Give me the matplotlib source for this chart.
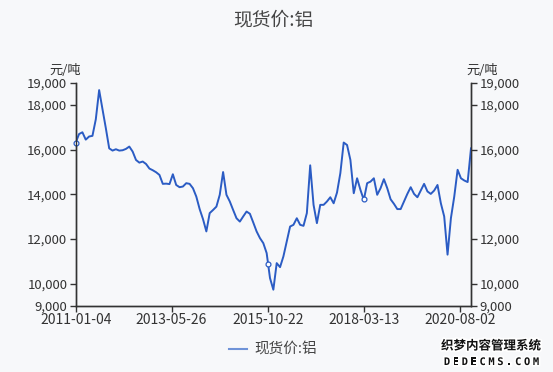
import matplotlib
matplotlib.use("Agg")
import matplotlib.pyplot as plt
import matplotlib.dates as mdates
import matplotlib.patheffects as pe
import numpy as np
import pandas as pd

plt.rcParams['font.family'] = ['Noto Sans CJK SC', 'DejaVu Sans']

title = "现货价:铝"
series_name = "现货价:铝"
unit = "元/吨"
start_date = "2011-01-04"
end_date = "2020-11-12"
values = [
    16318, 16700, 16780, 16450, 16590, 16620, 17360, 18670, 17810, 16960,
    16060, 15960, 16020, 15960, 15975, 16035, 16140, 15915, 15540, 15420,
    15470, 15360, 15155, 15080, 14990, 14870, 14470, 14480, 14460, 14900,
    14420, 14320, 14350, 14500, 14470, 14275, 13900, 13340, 12890, 12340,
    13160, 13300, 13450, 13980, 15000, 13980, 13680, 13300, 12930, 12780,
    13010, 13230, 13130, 12740, 12340, 12040, 11815, 11370, 10250, 9730,
    10920, 10740, 11220, 11890, 12560, 12635, 12930, 12635, 12590, 13160,
    15300, 13530, 12710, 13530, 13530, 13680, 13870, 13600, 14080, 14950,
    16320, 16210, 15540, 14050, 14720, 14200, 13750, 14500, 14570, 14720,
    13980, 14275, 14680, 14275, 13780, 13575, 13340, 13340, 13680, 14020,
    14320, 14020, 13870, 14170, 14470, 14130, 14020, 14170, 14420, 13600,
    13010, 11300, 12930, 13900, 15100, 14720, 14620, 14550, 16060,
]
xtick_labels = ["2011-01-04", "2013-05-26", "2015-10-22", "2018-03-13", "2020-08-02"]
marker_dates = ["2011-01-04", "2015-10-22", "2018-03-13"]
ytick_values = [9000, 10000, 12000, 14000, 16000, 18000, 19000]
watermark_cn = "织梦内容管理系统"
watermark_en = "DEDECMS.COM"

dates = pd.date_range(start_date, end_date, periods=len(values))

bg = "#f7f8fa"
line_color = "#2b5cc4"
axis_color = "#333333"
text_color = "#333333"

fig = plt.figure(figsize=(5.53, 3.72), dpi=100, facecolor=bg)
ax = fig.add_axes([75.7 / 553, 66 / 372, 395.3 / 553, 223.3 / 372])
ax.set_facecolor(bg)

ax.plot(dates, values, color=line_color, lw=1.4, label=series_name, zorder=3)

# hollow markers at labelled dates
xnum = mdates.date2num(dates)
mnum = mdates.date2num(pd.to_datetime(marker_dates))
mval = np.interp(mnum, xnum, values)
ax.plot(mdates.num2date(mnum), mval, ls="none", marker="o", ms=3.5,
        mfc="white", mec=line_color, mew=0.9, zorder=4, clip_on=False)

ax.set_xlim(pd.Timestamp(start_date), pd.Timestamp(end_date))
ax.set_ylim(min(ytick_values), max(ytick_values))
ax.set_xticks(pd.to_datetime(xtick_labels))
ax.set_xticklabels(xtick_labels)
ax.set_yticks(ytick_values)
fmt = matplotlib.ticker.FuncFormatter(lambda v, p: f"{int(v):,}")
ax.yaxis.set_major_formatter(fmt)

ax2 = ax.twinx()
ax2.set_ylim(ax.get_ylim())
ax2.set_yticks(ytick_values)
ax2.yaxis.set_major_formatter(fmt)

for a in (ax, ax2):
    a.spines['top'].set_visible(False)
    for s in ('left', 'right', 'bottom'):
        a.spines[s].set_color(axis_color)
        a.spines[s].set_linewidth(1.0)
    a.tick_params(axis='both', direction='out', length=4, width=1,
                  color=axis_color, labelcolor=text_color, labelsize=9.5, pad=2)
ax.tick_params(axis='x', labelsize=10, pad=1)

ax.text(-0.027, 1.055, unit, transform=ax.transAxes, ha='center', va='center',
        fontsize=9.5, color=text_color)
ax.text(1.028, 1.055, unit, transform=ax.transAxes, ha='center', va='center',
        fontsize=9.5, color=text_color)

fig.text(273 / 553, 1 - 20 / 372, title, ha='center', va='center',
         fontsize=13.5, color="#444444")

leg = fig.legend(handles=[matplotlib.lines.Line2D([], [], color="#6f93d8", lw=1.5)],
                 labels=[series_name], loc='center',
                 bbox_to_anchor=(273 / 553, 1 - 350 / 372), frameon=False,
                 fontsize=10.5, handlelength=1.2, handletextpad=0.5)
for t in leg.get_texts():
    t.set_color("#444444")

stroke = [pe.withStroke(linewidth=2.5, foreground="white")]
fig.text(491 / 553, 1 - 346 / 372, watermark_cn, ha='center', va='center',
         fontsize=9, fontweight='bold', color="#111111", path_effects=stroke)
n = len(watermark_en)
for k, ch in enumerate(watermark_en):
    xc = (447 + k * (89 / (n - 1))) / 553
    fig.text(xc, 1 - 362 / 372, ch, ha='center', va='center',
             fontsize=7.5, fontweight='bold', color="#111111",
             family='DejaVu Sans Mono', path_effects=stroke)

fig.savefig("out.png", dpi=100, facecolor=bg)
